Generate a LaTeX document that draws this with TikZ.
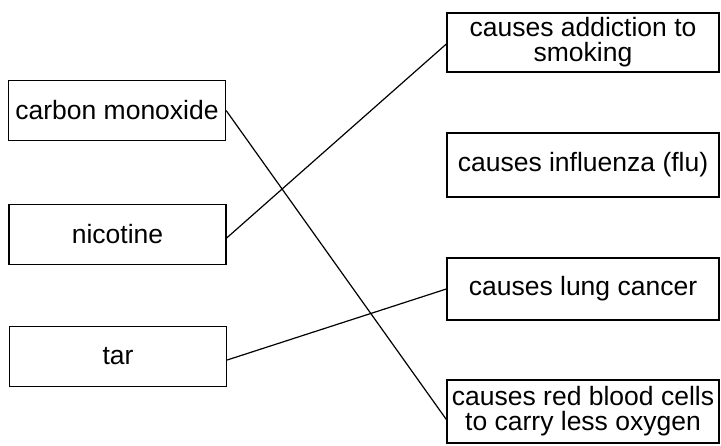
\documentclass[tikz,border=0pt]{standalone}
\usepackage{fontspec}
\setmainfont{Liberation Sans}
\begin{document}
\begin{tikzpicture}[x=1pt,y=-1pt,
  box/.style={draw=black,line width=1.3pt,inner sep=0pt,align=center,
    font=\fontsize{26.5}{25}\selectfont},
  lbox/.style={box,minimum width=217pt,minimum height=60pt},
  rbox/.style={box,minimum width=272pt},
  link/.style={draw=black,line width=1.2pt}]
\useasboundingbox (0,0) rectangle (721,445);
\fill[white] (0,0) rectangle (721,445);
\node[lbox] (co)  at (117,110.5) {carbon monoxide};
\node[lbox] (nic) at (117.5,234.5) {nicotine};
\node[lbox] (tar) at (118,356.5) {tar};
\node[rbox,minimum height=59pt] (add) at (583,42.5) {causes addiction to\\smoking};
\node[rbox,minimum height=64pt] (flu) at (583,165) {causes influenza (flu)};
\node[rbox,minimum height=62pt] (lung) at (583,289) {causes lung cancer};
\node[rbox,minimum height=63pt] (rbc) at (583,411.5) {causes red blood cells\\to carry less oxygen};
\draw[link] (co.east) -- ([yshift=-8pt]rbc.west);
\draw[link] ([yshift=-3.5pt]nic.east) -- ([yshift=-1.5pt]add.west);
\draw[link] ([yshift=-3.5pt]tar.east) -- (lung.west);
\end{tikzpicture}
\end{document}
